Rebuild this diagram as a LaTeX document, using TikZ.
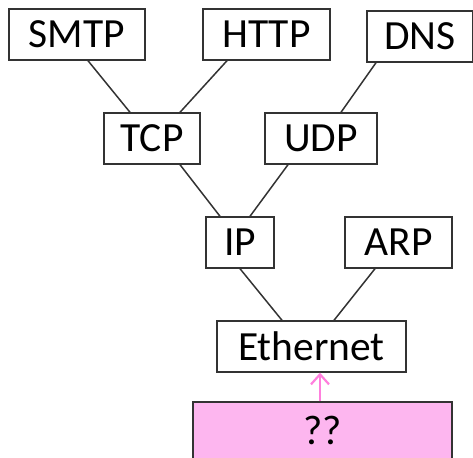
\documentclass[tikz,border=0pt]{standalone}
\usepackage{fontspec}
\setmainfont{Carlito}
\usetikzlibrary{arrows.meta}
\definecolor{pinkfill}{HTML}{FDB6EF}
\definecolor{pinkline}{HTML}{FF7FDD}
\definecolor{edge}{HTML}{333333}
\begin{document}
\begin{tikzpicture}[x=1pt,y=-1pt,
  proto/.style={draw=edge,line width=1.4pt,fill=white,inner sep=0pt,minimum height=51pt,
    font=\fontsize{41.5}{44}\selectfont,text=black},
  link/.style={draw=edge,line width=1.5pt},
  up/.style={draw=pinkline,line width=2.2pt,-{Straight Barb[length=10pt,width=18pt,line width=2.2pt]}}]
\useasboundingbox (0,0) rectangle (473,457);
\begin{scope}
\clip (0,0) rectangle (473,457);
\node[proto,minimum width=136pt] (smtp) at (77,34.5) {SMTP};
\node[proto,minimum width=127pt] (http) at (266.5,34.5) {HTTP};
\node[proto,minimum width=106pt] (dns) at (420,36.5) {DNS};
\node[proto,minimum width=96pt] (tcp) at (152,138.5) {TCP};
\node[proto,minimum width=112pt] (udp) at (321,138.5) {UDP};
\node[proto,minimum width=68pt] (ip) at (240,242.5) {IP};
\node[proto,minimum width=107pt] (arp) at (398.5,242.5) {ARP};
\node[proto,minimum width=189pt] (eth) at (311.5,346.5) {Ethernet};
\node[proto,fill=pinkfill,minimum width=259pt,minimum height=57pt] (q) at (322.5,430.5) {\raisebox{-5pt}{??}};
\draw[link] ([xshift=11pt]smtp.south) -- ([xshift=-22pt]tcp.north);
\draw[link] ([xshift=-39.5pt]http.south) -- ([xshift=28pt]tcp.north);
\draw[link] ([xshift=-44pt]dns.south) -- ([xshift=20pt]udp.north);
\draw[link] ([xshift=28pt]tcp.south) -- ([xshift=-20pt]ip.north);
\draw[link] ([xshift=-33pt]udp.south) -- ([xshift=10pt]ip.north);
\draw[link] (ip.south) -- ([xshift=-29.5pt]eth.north);
\draw[link] ([xshift=-23.5pt]arp.south) -- ([xshift=22.5pt]eth.north);
\draw[up] ([xshift=-2.5pt]q.north) -- ([xshift=8.5pt]eth.south);
\end{scope}
\end{tikzpicture}
\end{document}
